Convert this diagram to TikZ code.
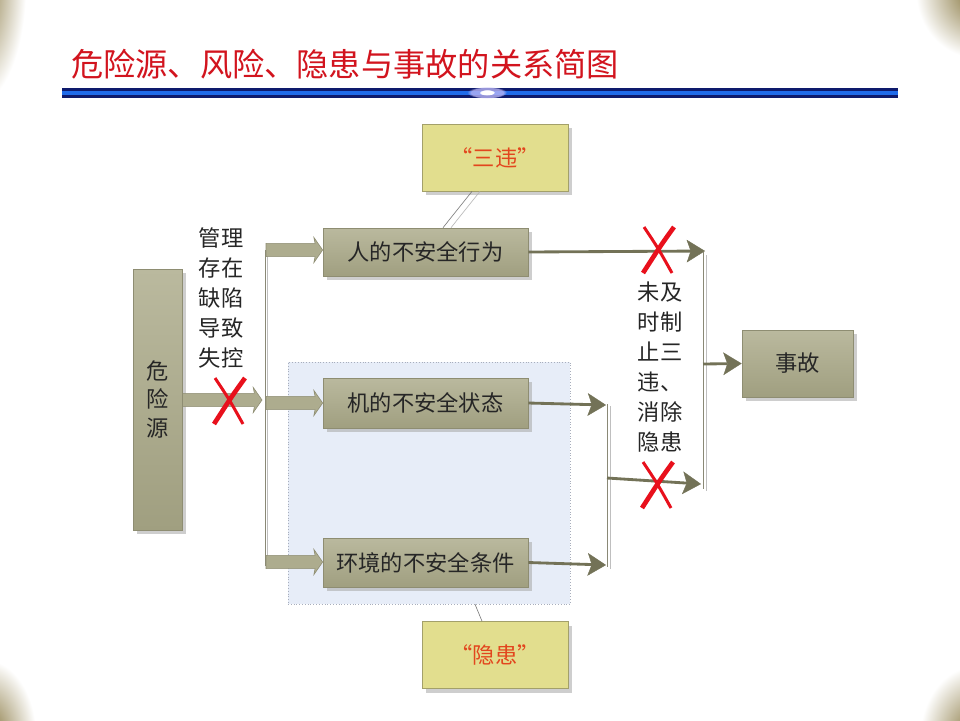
\documentclass[tikz,border=0pt]{standalone}
\usepackage{fontspec}
\newfontfamily\cjk{Noto Sans CJK SC}
\usetikzlibrary{arrows.meta,shadows,fadings,calc}
\definecolor{olv}{HTML}{ADAC8E}
\definecolor{olvtop}{HTML}{BAB99E}
\definecolor{olvbot}{HTML}{A09F80}
\definecolor{olvedge}{HTML}{8E8D72}
\definecolor{ylw}{HTML}{E2DE8E}
\definecolor{ylwedge}{HTML}{A3A06A}
\definecolor{callred}{HTML}{E2461E}
\definecolor{titlered}{HTML}{D2141E}
\definecolor{conn}{HTML}{737257}
\definecolor{xred}{HTML}{E8101C}
\definecolor{regfill}{HTML}{E7EDF8}
\definecolor{regedge}{HTML}{A8AEBC}
\definecolor{navy}{HTML}{0E1A6C}
\definecolor{brightblue}{HTML}{1F6BEA}
\definecolor{glow}{HTML}{B8B4F4}
\definecolor{corner}{HTML}{7E6C30}
\definecolor{vline}{HTML}{8A8976}
% horizontal block arrow from #1 to #2 (tip at #2, height taken from #1)
\newcommand\blkarrow[2]{%
  \filldraw[fill=olv, draw=olvedge, line width=0.5pt]
    let \p1=(#1), \p2=(#2) in
    (\x1,\y1+5.6pt) -- (\x2-6.5pt,\y1+5.6pt) -- (\x2-7.5pt,\y1+10.8pt) -- (\x2,\y1)
    -- (\x2-7.5pt,\y1-10.8pt) -- (\x2-6.5pt,\y1-5.6pt) -- (\x1,\y1-5.6pt) -- cycle;}
\begin{document}
\begin{tikzpicture}[x=0.03cm,y=-0.03cm,font=\cjk,
  shad/.style={drop shadow={shadow xshift=0.12cm, shadow yshift=-0.12cm, fill=black!35, opacity=0.55}},
  box/.style={draw=olvedge, line width=0.6pt, top color=olvtop, bottom color=olvbot, shad,
    inner sep=0pt, font=\cjk\fontsize{19}{24}\selectfont, text=black!85},
  callout/.style={draw=ylwedge, line width=0.6pt, fill=ylw, shad, inner sep=0pt,
    minimum width=4.38cm, minimum height=2.01cm, font=\cjk\fontsize{19}{24}\selectfont, text=callred},
  vtext/.style={align=center, inner sep=0pt, text=black!85},
  cn/.style={conn, line width=0.085cm, -{Stealth[length=0.55cm, width=0.68cm, inset=0.12cm, line width=0.3pt]}},
  bar/.style={vline, line width=0.8pt},
  barlight/.style={black!25, line width=0.8pt},
  xmark/.style={xred, line width=0.14cm}
]
\useasboundingbox (0,0) rectangle (960,720);
\fill[white] (0,0) rectangle (960,720);
% corners
\begin{scope}
\clip (0,0) rectangle (960,720);
\shade[inner color=corner, outer color=white] (-24,-14) ellipse (50 and 118);
\shade[inner color=corner, outer color=white] (978,-8) ellipse (62 and 66);
\shade[inner color=corner, outer color=white] (-14,736) ellipse (50 and 76);
\shade[inner color=corner, outer color=white] (976,738) ellipse (56 and 72);
\end{scope}
% title
\node[anchor=west, inner sep=0pt, text=titlered, font=\cjk\fontsize{27.5}{30}\selectfont] (title) at (71,64)
  {危险源、风险、隐患与事故的关系简图};
% blue rule
\fill[navy] (62,88) rectangle (898,98);
\fill[brightblue] (62,91.2) rectangle (898,94.6);
\fill[glow, opacity=0.8, path fading=circle with fuzzy edge 20 percent] (487,92.5) ellipse (20 and 6);
\fill[white, path fading=circle with fuzzy edge 20 percent] (487,92.5) ellipse (8 and 3);
% hazard region
\node[draw=regedge, dotted, fill=regfill, minimum width=8.46cm, minimum height=7.26cm, inner sep=0pt] (region) at (429,483) {};
% main boxes
\node[box, minimum width=1.47cm, minimum height=7.83cm] (haz) at (157.5,399.5) {};
\node[vtext, font=\cjk\fontsize{19}{24.6}\selectfont] (hazt) at (haz.center) {危\\险\\源};
\node[box, minimum width=6.15cm, minimum height=1.44cm] (b1) at (425.5,252) {人的不安全行为};
\node[box, minimum width=6.15cm, minimum height=1.5cm] (b2) at (425.5,403) {机的不安全状态};
\node[box, minimum width=6.15cm, minimum height=1.47cm] (b3) at (425.5,562.5) {环境的不安全条件};
\node[box, minimum width=3.33cm, minimum height=2.01cm] (acc) at (797.5,363.5) {事故};
% callouts
\node[callout] (c1) at (495,157.5) {“三违”};
\node[callout] (c2) at (495,655) {“隐患”};
\draw[black!55, line width=0.5pt] (c1.south -| 472,0) -- (b1.north -| 443,0);
\draw[black!30, line width=0.5pt] (c1.south -| 480,0) -- (b1.north -| 451,0);
\draw[black!55, line width=0.5pt] (c2.north -| 482,0) -- (region.south -| 475,0);
% labels
\node[vtext, font=\cjk\fontsize{19}{25.5}\selectfont] (mgmt) at (221,298) {管理\\存在\\缺陷\\导致\\失控};
\node[vtext, font=\cjk\fontsize{19}{25.5}\selectfont] (late) at (660,367) {未及\\时制\\止三\\违、\\消除\\隐患};
% left distribution
\coordinate (hs) at (182.5,400);
\coordinate (he) at (262,400);
\coordinate (ltop) at (266,250);
\coordinate (lmid) at (266,403);
\coordinate (lbot) at (266,562);
\draw[bar] (265,250) -- (265,566);
\draw[barlight] (267.5,252) -- (267.5,566);
\blkarrow{hs}{he}
\blkarrow{ltop}{b1.west}
\blkarrow{lmid}{b2.west}
\blkarrow{lbot}{b3.west}
% right side
\coordinate (r1) at (705,251);
\coordinate (m1) at (606,405);
\coordinate (m2) at (606,565);
\coordinate (mj) at (607,478);
\coordinate (r2) at (701,484);
\coordinate (rj) at (703,364);
\draw[cn] (b1.east) -- (r1);
\draw[cn] (b2.east) -- (m1);
\draw[cn] (b3.east) -- (m2);
\draw[bar] (607.5,404) -- (607.5,567);
\draw[barlight] (610.5,406) -- (610.5,569);
\draw[cn] (mj) -- (r2);
\draw[bar] (703,252) -- (703,489);
\draw[barlight] (706,255) -- (706,491);
\draw[cn] (rj) -- (acc.west);
% red crosses
\coordinate (x1) at (229,401);
\coordinate (x2) at (658,250);
\coordinate (x3) at (657,485);
\foreach \c in {x1,x2,x3}{
  \draw[xmark] ($(\c)+(16,-23)$) .. controls ($(\c)+(3,-5)$) .. ($(\c)+(-15,23)$);
  \draw[xred, line width=0.09cm] ($(\c)+(-14,-23)$) .. controls ($(\c)+(0,-2)$) .. ($(\c)+(14,23)$);
}
\end{tikzpicture}
\end{document}
